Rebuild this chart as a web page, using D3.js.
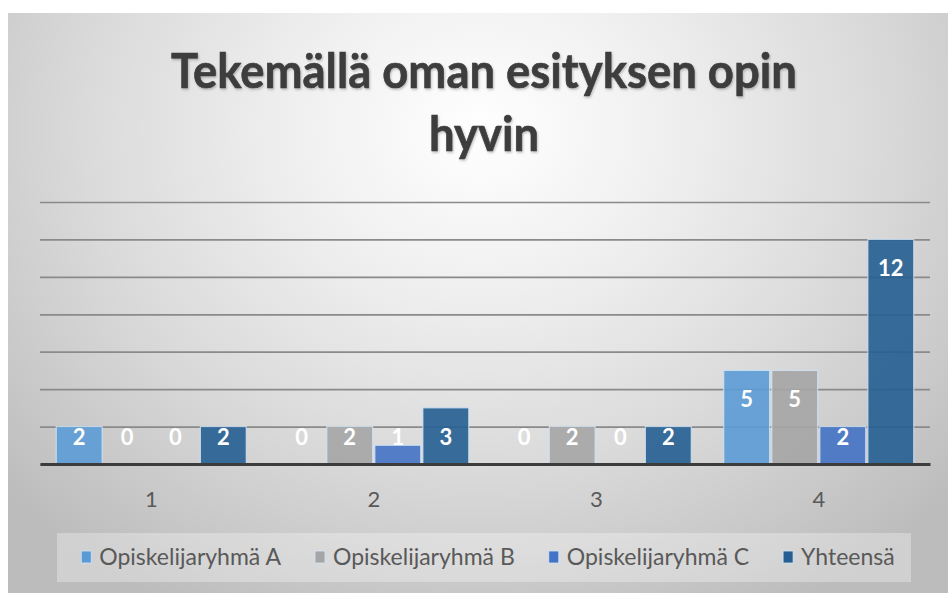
<!DOCTYPE html>
<html>
<head>
<meta charset="utf-8">
<script src="https://cdn.jsdelivr.net/npm/d3@7"></script>
<style>
  body { margin: 0; background: #fff; }
  svg { display: block; font-family: Lato, "Open Sans", sans-serif; }
</style>
</head>
<body>
<svg id="chart" width="948" height="593"></svg>
<script>
// data
const categories = ["1", "2", "3", "4"];
const seriesNames = ["Opiskelijaryhmä A", "Opiskelijaryhmä B", "Opiskelijaryhmä C", "Yhteensä"];
const groupA = [2, 0, 0, 5];
const groupB = [0, 2, 2, 5];
const groupC = [0, 1, 0, 2];
const total  = [2, 3, 2, 12];
const seriesColors = ["#5b9bd5", "#a5a5a5", "#4472c4", "#255e91"];
const yTicks = [0, 2, 4, 6, 8, 10, 12, 14];
const titleLines = ["Tekemällä oman esityksen opin", "hyvin"];

const seriesValues = [groupA, groupB, groupC, total];

const svg = d3.select("svg#chart");
const defs = svg.append("defs");

// background gradient
let grad = defs.append("radialGradient")
  .attr("id", "bg")
  .attr("gradientUnits", "userSpaceOnUse")
  .attr("cx", 480).attr("cy", 130).attr("r", 640)
  .attr("gradientTransform", "translate(480,130) scale(1,0.85) translate(-480,-130)");
grad.append("stop").attr("offset", 0).attr("stop-color", "#ffffff");
grad.append("stop").attr("offset", 0.3).attr("stop-color", "#efefef");
grad.append("stop").attr("offset", 0.62).attr("stop-color", "#dadada");
grad.append("stop").attr("offset", 1).attr("stop-color", "#bcbcbc");

let shadow = defs.append("filter").attr("id", "tshadow")
  .attr("x", "-10%").attr("y", "-20%").attr("width", "120%").attr("height", "140%");
shadow.append("feDropShadow")
  .attr("dx", 1).attr("dy", 1.5).attr("stdDeviation", 1.2)
  .attr("flood-color", "#000").attr("flood-opacity", 0.25);

svg.append("rect")
  .attr("x", 8).attr("y", 13)
  .attr("width", 940).attr("height", 580)
  .attr("fill", "url(#bg)");

// title
const titleG = svg.append("g").attr("filter", "url(#tshadow)");
const titleText = titleG.selectAll("text").data(titleLines)
  .enter().append("text")
    .attr("x", 0)
    .attr("y", function(d, i) { return 88 + 63 * i; })
    .attr("text-anchor", "middle")
    .attr("font-size", "48px")
    .attr("font-weight", "bold")
    .attr("fill", "#3d3d3d")
    .attr("stroke", "#3d3d3d")
    .attr("stroke-width", 0.6)
    .text(function(d) { return d; });

// squeeze to the narrow look of the original font
let w1 = titleText.node().getComputedTextLength();
let sx = Math.min(1, 626 / w1);
titleG.attr("transform", "translate(484,0) scale(" + sx + ",1)");

// scales
const plotLeft = 40, plotRight = 930, plotBottom = 464, plotTop = 202;

const x0 = d3.scaleBand()
  .domain(categories)
  .range([plotLeft, plotRight])
  .paddingInner(0.146)
  .paddingOuter(0.073);

const x1 = d3.scaleBand()
  .domain(seriesNames)
  .range([0, x0.bandwidth()])
  .paddingInner(0.045);

const y = d3.scaleLinear()
  .domain([0, 14])
  .range([plotBottom, plotTop]);

// gridlines
const grid = svg.append("g")
  .attr("class", "grid")
  .attr("transform", "translate(" + plotLeft + ",0)")
  .call(d3.axisLeft(y).tickValues(yTicks).tickSize(-(plotRight - plotLeft)).tickFormat(""));
grid.select(".domain").remove();
grid.selectAll("line")
  .attr("stroke", "#8a8a8a")
  .attr("stroke-width", 1.7);

// bars
const rows = categories.map(function(c, i) {
  return { cat: c, values: seriesNames.map(function(s, j) { return { name: s, value: seriesValues[j][i], idx: j }; }) };
});

const groups = svg.append("g").attr("class", "bars")
  .selectAll("g").data(rows)
  .enter().append("g")
    .attr("transform", function(d) { return "translate(" + x0(d.cat) + ",0)"; });

groups.selectAll("rect").data(function(d) { return d.values; })
  .enter().append("rect")
    .attr("x", function(d) { return x1(d.name); })
    .attr("width", x1.bandwidth())
    .attr("y", function(d) { return y(d.value); })
    .attr("height", function(d) { return y(0) - y(d.value); })
    .attr("fill", function(d) { return seriesColors[d.idx]; })
    .attr("fill-opacity", 0.9)
    .attr("stroke", function(d) { return d.value > 0 ? "#d3e5f6" : "none"; })
    .attr("stroke-width", 1.2)
    .attr("stroke-opacity", 0.8);

// x axis / baseline
const xAxis = svg.append("g")
  .attr("class", "axis axis--x")
  .attr("transform", "translate(0," + plotBottom + ")")
  .call(d3.axisBottom(x0).tickSize(0).tickSizeOuter(0).tickPadding(27));
xAxis.select(".domain")
  .attr("stroke", "#3c3c3c")
  .attr("stroke-width", 3);
xAxis.selectAll("text")
  .attr("font-family", "Lato, sans-serif")
  .attr("font-size", "22px")
  .attr("fill", "#595959");

// value labels
groups.selectAll("text.barlabel").data(function(d) { return d.values; })
  .enter().append("text")
    .attr("class", "barlabel")
    .attr("x", function(d) { return x1(d.name) + x1.bandwidth() / 2; })
    .attr("y", function(d) { return Math.min(y(d.value) + 29, y(0) - 27); })
    .attr("dy", "0.36em")
    .attr("text-anchor", "middle")
    .attr("font-size", "22px")
    .attr("font-weight", "bold")
    .attr("fill", "#ffffff")
    .text(function(d) { return d.value; });

// legend
svg.append("rect")
  .attr("x", 57).attr("y", 533)
  .attr("width", 854).attr("height", 49)
  .attr("fill", "#ffffff")
  .attr("fill-opacity", 0.3);

const legend = svg.append("g").attr("class", "legend");
const items = legend.selectAll("g").data(seriesNames)
  .enter().append("g");

items.append("rect")
  .attr("width", 10).attr("height", 12)
  .attr("y", 551)
  .attr("fill", function(d, i) { return seriesColors[i]; })
  .attr("stroke", "#d3e5f6")
  .attr("stroke-width", 0.8);

items.append("text")
  .attr("x", 18)
  .attr("y", 565)
  .attr("font-size", "23px")
  .attr("fill", "#595959")
  .text(function(d) { return d; });

// position legend items next to each other, centred
let offsets = [], pos = 0;
items.each(function() {
  let tw = d3.select(this).select("text").node().getComputedTextLength();
  offsets.push(pos);
  pos += 18 + tw + 34;
});
let totalW = pos - 34;
let startX = 488 - totalW / 2;
items.attr("transform", function(d, i) { return "translate(" + (startX + offsets[i]) + ",0)"; });
</script>
</body>
</html>
